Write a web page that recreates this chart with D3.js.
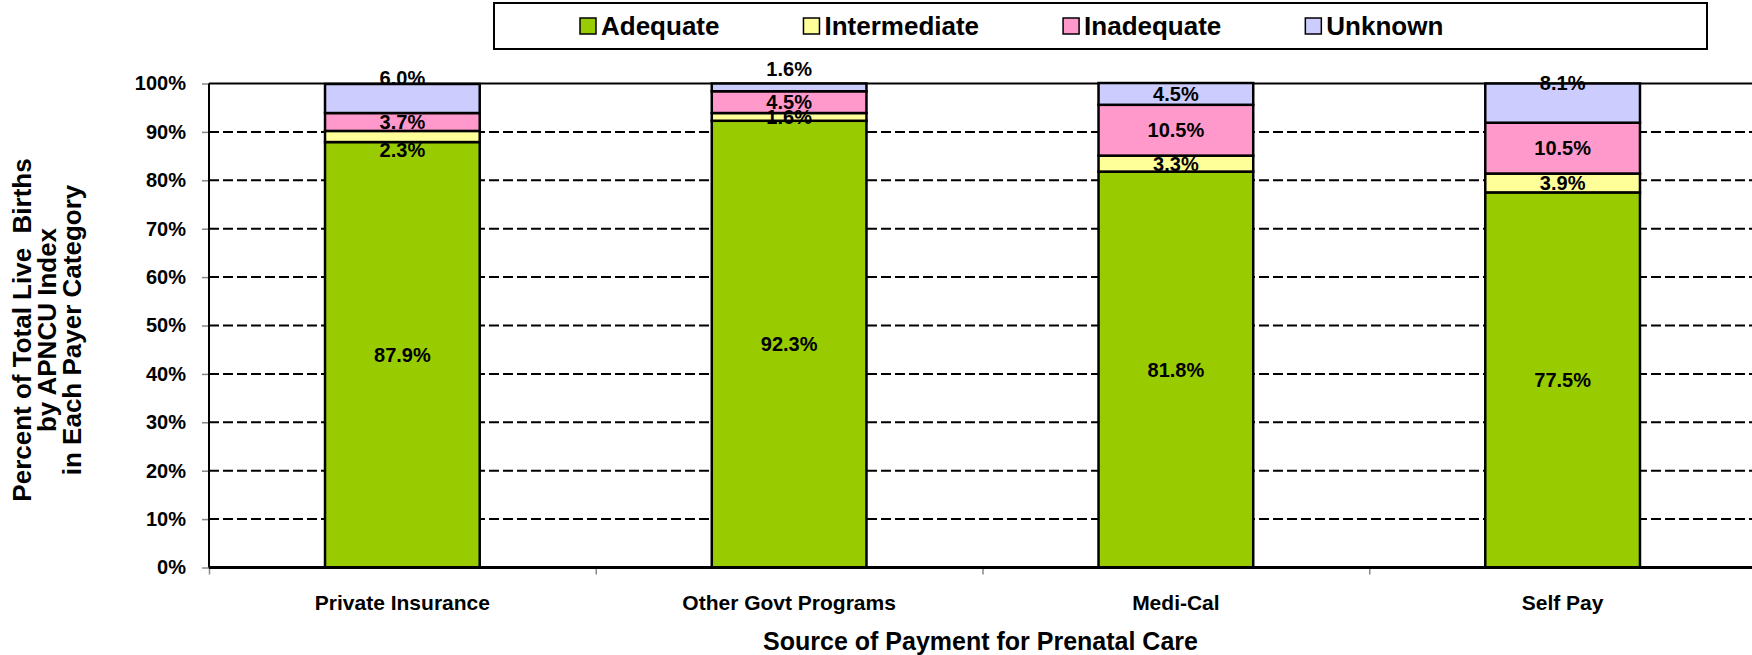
<!DOCTYPE html>
<html>
<head>
<meta charset="utf-8">
<script src="https://cdn.jsdelivr.net/npm/d3@7"></script>
<style>
  body { margin: 0; background: #fff; }
  text { font-family: "Liberation Sans", Arial, sans-serif; font-weight: bold; fill: #000; }
</style>
</head>
<body>
<div id="chart"></div>
<script>
// data
const categories = ["Private Insurance", "Other Govt Programs", "Medi-Cal", "Self Pay"];
const seriesNames = ["Adequate", "Intermediate", "Inadequate", "Unknown"];
const adequate     = [87.9, 92.3, 81.8, 77.5];
const intermediate = [2.3, 1.6, 3.3, 3.9];
const inadequate   = [3.7, 4.5, 10.5, 10.5];
const unknown      = [6.0, 1.6, 4.5, 8.1];
const yTicks = [0, 10, 20, 30, 40, 50, 60, 70, 80, 90, 100];

// labels that were dragged off-centre in the original (percentage points, + = up)
const labelNudge = {
  Adequate:     [0, 0, 0, 0],
  Intermediate: [-2.8, 0, 0, 0],
  Inadequate:   [0, 0, 0, 0],
  Unknown:      [4.2, 3.8, 0, 4.2]
};

const colors = {
  Adequate: "#99cc00",
  Intermediate: "#ffff99",
  Inadequate: "#ff99cc",
  Unknown: "#ccccff"
};

const width = 1752, height = 655;
const plot = {left: 209, right: 1756, top: 83.5, bottom: 567.5};

const rows = categories.map((c, i) => ({
  cat: c,
  Adequate: adequate[i],
  Intermediate: intermediate[i],
  Inadequate: inadequate[i],
  Unknown: unknown[i]
}));

const svg = d3.select("#chart")
  .append("svg")
  .attr("width", width)
  .attr("height", height)
  .attr("style", "background-color: white");

const x = d3.scaleBand()
  .domain(categories)
  .range([plot.left, plot.right])
  .padding(0);

const y = d3.scaleLinear()
  .domain([0, 100])
  .range([plot.bottom, plot.top]);

// dashed gridlines
svg.append("g")
  .selectAll("line")
  .data(yTicks.filter(d => d > 0 && d < 100))
  .join("line")
  .attr("x1", plot.left)
  .attr("x2", plot.right)
  .attr("y1", d => y(d))
  .attr("y2", d => y(d))
  .attr("stroke", "#000")
  .attr("stroke-width", 2)
  .attr("stroke-dasharray", "10,4");

// top border of the plot area
svg.append("line")
  .attr("x1", plot.left).attr("x2", plot.right)
  .attr("y1", y(100)).attr("y2", y(100))
  .attr("stroke", "#000").attr("stroke-width", 2);

// y axis
const yAxis = svg.append("g")
  .attr("transform", `translate(${plot.left}, 0)`)
  .call(d3.axisLeft(y).tickValues(yTicks).tickFormat(d => d + "%").tickSize(7).tickPadding(16));
yAxis.select(".domain").remove();
yAxis.selectAll(".tick line").attr("stroke", "#888").attr("stroke-width", 1.5);
yAxis.selectAll(".tick text")
  .style("font-size", "20px")
  .style("font-family", "'Liberation Sans', Arial, sans-serif")
  .style("font-weight", "bold")
  .attr("fill", "#000");

// x axis: ticks sit between categories
const xEdges = d3.scaleLinear().domain([0, categories.length]).range([plot.left, plot.right]);
const xAxis = svg.append("g")
  .attr("transform", `translate(0, ${plot.bottom})`)
  .call(d3.axisBottom(xEdges).tickValues(d3.range(categories.length + 1)).tickFormat("").tickSize(7));
xAxis.select(".domain").remove();
xAxis.selectAll(".tick line").attr("stroke", "#888").attr("stroke-width", 1.5);

const xLabels = svg.append("g")
  .attr("transform", `translate(0, ${plot.bottom})`)
  .call(d3.axisBottom(x).tickSize(0).tickPadding(28));
xLabels.select(".domain").remove();
xLabels.selectAll(".tick text")
  .style("font-size", "21px")
  .style("font-family", "'Liberation Sans', Arial, sans-serif")
  .style("font-weight", "bold")
  .attr("fill", "#000");

// stacked bars
const stack = d3.stack().keys(seriesNames)(rows);
const barW = x.bandwidth() * 0.4;

const layers = svg.append("g")
  .selectAll("g")
  .data(stack)
  .join("g")
  .attr("fill", d => colors[d.key]);

layers.selectAll("rect")
  .data(d => d)
  .join("rect")
  .attr("x", d => x(d.data.cat) + (x.bandwidth() - barW) / 2)
  .attr("y", d => y(d[1]))
  .attr("width", barW)
  .attr("height", d => y(d[0]) - y(d[1]))
  .attr("stroke", "#000")
  .attr("stroke-width", 2.5);

// value labels
stack.forEach(layer => {
  svg.append("g")
    .selectAll("text")
    .data(layer)
    .join("text")
    .attr("x", d => x(d.data.cat) + x.bandwidth() / 2)
    .attr("y", (d, i) => y((d[0] + d[1]) / 2 + labelNudge[layer.key][i]))
    .attr("text-anchor", "middle")
    .attr("dominant-baseline", "central")
    .style("font-size", "20px")
    .text(d => (d[1] - d[0]).toFixed(1) + "%");
});

// left and bottom axis lines on top
svg.append("line")
  .attr("x1", plot.left).attr("x2", plot.left)
  .attr("y1", y(100)).attr("y2", y(0))
  .attr("stroke", "#000").attr("stroke-width", 2);
svg.append("line")
  .attr("x1", plot.left).attr("x2", plot.right)
  .attr("y1", y(0)).attr("y2", y(0))
  .attr("stroke", "#000").attr("stroke-width", 3);

// axis titles
svg.append("text")
  .attr("x", (plot.left + plot.right) / 2 - 2)
  .attr("y", 641)
  .attr("text-anchor", "middle")
  .attr("dominant-baseline", "central")
  .style("font-size", "25px")
  .text("Source of Payment for Prenatal Care");

const yTitle = ["Percent of Total Live  Births", "by APNCU Index", "in Each Payer Category"];
const yt = svg.append("text")
  .attr("transform", "translate(47, 330) rotate(-90)")
  .attr("text-anchor", "middle")
  .attr("xml:space", "preserve")
  .style("white-space", "pre")
  .style("font-size", "26px");
yt.selectAll("tspan")
  .data(yTitle)
  .join("tspan")
  .attr("x", 0)
  .attr("y", (d, i) => (i - 1) * 25)
  .attr("dominant-baseline", "central")
  .text(d => d);

// legend
const legendBox = {x: 494, y: 3, w: 1213, h: 46};
svg.append("rect")
  .attr("x", legendBox.x).attr("y", legendBox.y)
  .attr("width", legendBox.w).attr("height", legendBox.h)
  .attr("fill", "#fff").attr("stroke", "#000").attr("stroke-width", 2);

const legend = svg.append("g");
let lx = 580;
seriesNames.forEach(name => {
  const g = legend.append("g").attr("transform", `translate(${lx}, ${legendBox.y + legendBox.h / 2})`);
  g.append("rect")
    .attr("x", 0).attr("y", -8)
    .attr("width", 16).attr("height", 16)
    .attr("fill", colors[name])
    .attr("stroke", "#000").attr("stroke-width", 1.5);
  const t = g.append("text")
    .attr("x", 21)
    .attr("dominant-baseline", "central")
    .style("font-size", "26px")
    .text(name);
  lx += 21 + t.node().getComputedTextLength() + 84;
});
</script>
</body>
</html>
